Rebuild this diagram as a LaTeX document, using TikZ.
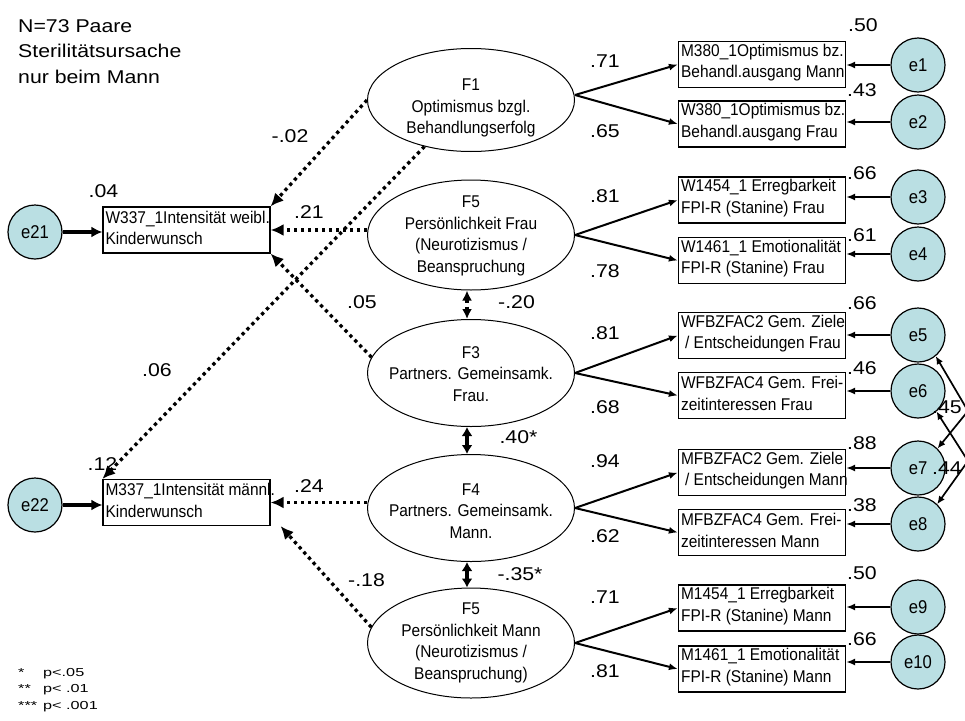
\documentclass[tikz,border=0pt]{standalone}
\usepackage{fontspec}
\setmainfont{Liberation Sans}
\newfontfamily\boxfont[FakeStretch=0.91]{Liberation Sans}
\newfontfamily\numfont[FakeStretch=1.15]{Liberation Sans}
\newfontfamily\errfont[FakeStretch=0.9]{Liberation Sans}
\newfontfamily\legfont[FakeStretch=1.4]{Liberation Sans}
\usetikzlibrary{shapes.geometric,arrows.meta}
\definecolor{errfill}{RGB}{186,223,227}

\tikzset{
  obs/.style={draw, line width=1.2pt, minimum width=167pt, minimum height=46pt, inner sep=0pt},
  obstext/.style={anchor=west, xshift=3pt, yshift=2pt, inner sep=0pt, align=left,
    font=\boxfont\fontsize{17}{21.3}\selectfont},
  lat/.style={draw, ellipse, line width=1pt, minimum width=207pt, inner sep=0pt},
  lattext/.style={inner sep=0pt, align=center, font=\boxfont\fontsize{17}{21.6}\selectfont},
  err/.style={draw, circle, fill=errfill, line width=1.2pt, minimum size=54pt, inner sep=0pt,
    font=\errfont\fontsize{18.5}{20}\selectfont},
  coef/.style={inner sep=0pt, font=\numfont\fontsize{18.5}{20}\selectfont},
  hdr/.style={inner sep=0pt, align=left, font=\numfont\fontsize{18.5}{25.5}\selectfont},
  legend/.style={inner sep=0pt, align=left, font=\legfont\fontsize{11.6}{16.6}\selectfont},
  load/.style={line width=2pt, -{Latex[length=9pt,width=7pt]}},
  erra/.style={line width=2pt, -{Latex[length=9pt,width=7pt]}},
  thka/.style={line width=4pt, -{Latex[length=11pt,width=11pt]}},
  dota/.style={line width=3.3pt, dash pattern=on 3.3pt off 3.7pt, -{Latex[length=13pt,width=12pt]}},
  dotd/.style={line width=3.3pt, dash pattern=on 3.3pt off 3.7pt,
    {Latex[length=10pt,width=10pt]}-{Latex[length=10pt,width=10pt]}},
  solidd/.style={line width=4pt, {Latex[length=9pt,width=11pt]}-{Latex[length=9pt,width=11pt]}},
  cova/.style={line width=1.7pt, {Latex[length=8pt,width=7pt]}-{Latex[length=8pt,width=7pt]}}
}

\begin{document}
\begin{tikzpicture}[x=1pt,y=-1pt]
\useasboundingbox[fill=white] (0,0) rectangle (965,720);

% sample description
\node[hdr, anchor=north west] (hdr) at (18,19) {N=73 Paare\\Sterilitätsursache\\nur beim Mann};

% significance legend
\node[legend, anchor=north west] (leg) at (18,668)
  {\makebox[25pt][l]{*}p<.05\\\makebox[25pt][l]{**}p< .01\\\makebox[25pt][l]{***}p< .001};

% latent factors
\node[lat, minimum height=103pt] (F1) at (471,100) {};
\node[lattext] (F1t) at (471,108) {F1\\Optimismus bzgl.\\Behandlungserfolg};
\node[lat, minimum height=110pt] (F5F) at (471,235) {};
\node[lattext] (F5Ft) at (471,236) {F5\\Persönlichkeit Frau\\(Neurotizismus /\\Beanspruchung};
\node[lat, minimum height=107pt] (F3) at (471,373) {};
\node[lattext] (F3t) at (471,374) {F3\\Partners. Gemeinsamk.\\Frau.};
\node[lat, minimum height=107pt] (F4) at (471,508) {};
\node[lattext] (F4t) at (471,511) {F4\\Partners. Gemeinsamk.\\Mann.};
\node[lat, minimum height=110pt] (F5M) at (471,643) {};
\node[lattext] (F5Mt) at (471,643) {F5\\Persönlichkeit Mann\\(Neurotizismus /\\Beanspruchung)};

% indicators
\node[obs] (o1) at (762,64.5) {};
\node[obstext] (o1t) at (o1.west) {M380\_1Optimismus bz.\\Behandl.ausgang Mann};
\node[obs] (o2) at (762,124) {};
\node[obstext] (o2t) at (o2.west) {W380\_1Optimismus bz.\\Behandl.ausgang Frau};
\node[obs] (o3) at (762,200) {};
\node[obstext] (o3t) at (o3.west) {W1454\_1 Erregbarkeit\\FPI-R (Stanine) Frau};
\node[obs] (o4) at (762,260.5) {};
\node[obstext] (o4t) at (o4.west) {W1461\_1 Emotionalität\\FPI-R (Stanine) Frau};
\node[obs] (o5) at (762,335.5) {};
\node[obstext] (o5t) at (o5.west) {WFBZFAC2 Gem. Ziele\\\hspace{4pt}/ Entscheidungen Frau};
\node[obs] (o6) at (762,395.5) {};
\node[obstext] (o6t) at (o6.west) {WFBZFAC4 Gem. Frei-\\zeitinteressen Frau};
\node[obs] (o7) at (762,472.5) {};
\node[obstext] (o7t) at (o7.west) {MFBZFAC2 Gem. Ziele\\\hspace{4pt}/ Entscheidungen Mann};
\node[obs] (o8) at (762,532.5) {};
\node[obstext] (o8t) at (o8.west) {MFBZFAC4 Gem. Frei-\\zeitinteressen Mann};
\node[obs] (o9) at (762,608) {};
\node[obstext] (o9t) at (o9.west) {M1454\_1 Erregbarkeit\\FPI-R (Stanine) Mann};
\node[obs] (o10) at (762,669) {};
\node[obstext] (o10t) at (o10.west) {M1461\_1 Emotionalität\\FPI-R (Stanine) Mann};

% outcome variables
\node[obs] (w337) at (186.5,230) {};
\node[obstext] (w337t) at (w337.west) {W337\_1Intensität weibl.\\Kinderwunsch};
\node[obs] (m337) at (186.5,502.5) {};
\node[obstext] (m337t) at (m337.west) {M337\_1Intensität männl.\\Kinderwunsch};

% error terms
\node[err] (e1) at (918,65) {e1};
\node[err] (e2) at (918,122) {e2};
\node[err] (e3) at (918,197) {e3};
\node[err] (e4) at (918,254) {e4};
\node[err] (e5) at (918,335) {e5};
\node[err] (e6) at (918,391) {e6};
\node[err] (e7) at (918,468) {e7};
\node[err] (e8) at (918,524) {e8};
\node[err] (e9) at (918,607) {e9};
\node[err] (e10) at (918,662) {e10};
\node[err] (e21) at (35,232) {e21};
\node[err] (e22) at (35,505) {e22};

% loadings
\draw[load] ([yshift=5pt]F1.east) -- (o1.west);
\draw[load] ([yshift=5pt]F1.east) -- (o2.west);
\draw[load] (F5F.east) -- (o3.west);
\draw[load] (F5F.east) -- (o4.west);
\draw[load] (F3.east) -- (o5.west);
\draw[load] (F3.east) -- (o6.west);
\draw[load] (F4.east) -- (o7.west);
\draw[load] (F4.east) -- (o8.west);
\draw[load] (F5M.east) -- (o9.west);
\draw[load] (F5M.east) -- (o10.west);

% residual paths
\foreach \e/\o in {e1/o1,e2/o2,e3/o3,e4/o4,e5/o5,e6/o6,e7/o7,e8/o8,e9/o9,e10/o10}
  \draw[erra] (\e.west) -- (\e.west -| \o.east);
\draw[thka] (e21.east) -- (e21.east -| w337.west);
\draw[thka] (e22.east) -- (e22.east -| m337.west);

% residual covariances
\coordinate (v1) at (968,411);
\coordinate (v2) at (968,461);
\draw[cova] (e5.-50) -- (v1) -- (e7.45);
\draw[cova] (e6.-48) -- (v2) -- (e8.46);

% structural paths
\draw[dota] (F1.180) -- (w337.north east);
\draw[dota] (F1.225) -- (m337.north west);
\draw[dota] (F5F.west |- w337.east) -- (w337.east);
\draw[dota] (F3.171) -- (w337.south east);
\draw[dota] (F4.west |- m337.east) -- (m337.east);
\draw[dota] (F5M.171) -- ([xshift=10pt]m337.south east);

% factor correlations
\draw[dotd] ([xshift=-4pt]F5F.south) -- ([xshift=-4pt]F3.north);
\draw[solidd] ([xshift=-4pt]F3.south) -- ([xshift=-4pt]F4.north);
\draw[solidd] ([xshift=-4pt]F4.south) -- ([xshift=-4pt]F5M.north);

% squared multiple correlations
\node[coef] (r1) at (863,25) {.50};
\node[coef] (r2) at (862,90) {.43};
\node[coef] (r3) at (862,173) {.66};
\node[coef] (r4) at (862,235.5) {.61};
\node[coef] (r5) at (862,303) {.66};
\node[coef] (r6) at (862,368.5) {.46};
\node[coef] (r7) at (862,443) {.88};
\node[coef] (r8) at (862,505) {.38};
\node[coef] (r9) at (862,573.5) {.50};
\node[coef] (r10) at (862,639.5) {.66};
\node[coef] (rw) at (103.5,191) {.04};
\node[coef] (rm) at (102.5,464) {.12};

% loading estimates
\node[coef] (l1) at (605,61) {.71};
\node[coef] (l2) at (605,131.5) {.65};
\node[coef] (l3) at (605,196.5) {.81};
\node[coef] (l4) at (605,271.5) {.78};
\node[coef] (l5) at (605,333) {.81};
\node[coef] (l6) at (605,407) {.68};
\node[coef] (l7) at (605,461.5) {.94};
\node[coef] (l8) at (605,536.5) {.62};
\node[coef] (l9) at (605,597.5) {.71};
\node[coef] (l10) at (605,671.5) {.81};

% path estimates
\node[coef] (p1) at (290,136) {-.02};
\node[coef] (p2) at (309,212) {.21};
\node[coef] (p3) at (362,302) {.05};
\node[coef] (p4) at (157,370) {.06};
\node[coef] (p5) at (309,486) {.24};
\node[coef] (p6) at (366.5,580.5) {-.18};

% correlation estimates
\node[coef] (c1) at (516.5,302) {-.20};
\node[coef] (c2) at (518.5,437) {.40*};
\node[coef] (c3) at (520,574.5) {-.35*};
\node[coef] (c4) at (947,407) {.45};
\node[coef] (c5) at (947,468) {.44};
\end{tikzpicture}
\end{document}
